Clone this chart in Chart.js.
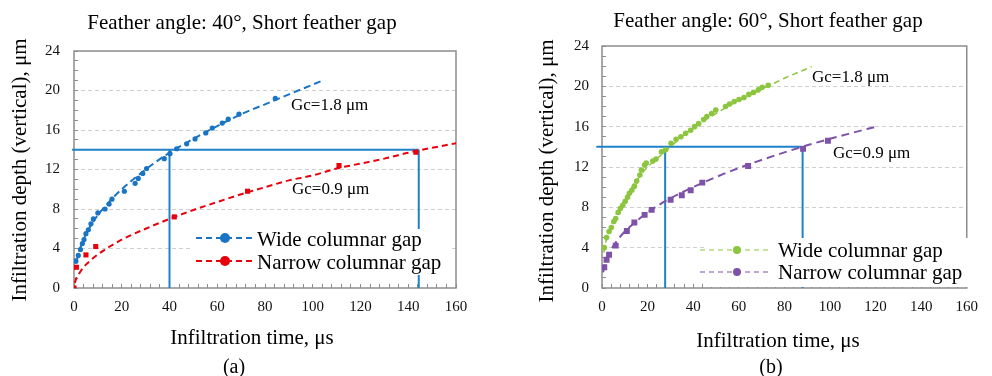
<!DOCTYPE html>
<html>
<head>
<meta charset="utf-8">
<script src="https://cdn.jsdelivr.net/npm/chart.js@4.4.1/dist/chart.umd.min.js"></script>
<style>
  body { margin: 0; background: #fff; }
  #wrap { position: relative; width: 992px; height: 376px; }
  canvas { position: absolute; top: 0; }
</style>
</head>
<body>
<div id="wrap">
  <canvas id="chartA" width="496" height="376" style="left:0"></canvas>
  <canvas id="chartB" width="496" height="376" style="left:496px"></canvas>
</div>
<script>
// ---- (a) feather angle 40° ----
const wideTimeA = [0.8, 1.8, 2.7, 3.5, 4.2, 5.0, 6.0, 7.1, 8.1, 10.0, 13.0, 14.7, 15.9, 21.1, 25.6, 26.9, 28.8, 30.4, 37.8, 40.2, 43.0, 47.2, 50.7, 55.2, 57.9, 62.1, 64.6, 69.1, 84.3];
const wideDepthA = [2.7, 3.3, 3.9, 4.5, 4.9, 5.5, 5.9, 6.5, 7.0, 7.6, 8.0, 8.5, 9.0, 9.8, 10.6, 11.1, 11.6, 12.1, 13.1, 13.6, 14.1, 14.6, 15.1, 15.7, 16.2, 16.7, 17.1, 17.6, 19.2];
const narrowTimeA = [0, 1.0, 5.0, 9.1, 42.0, 72.7, 111.0, 143.2];
const narrowDepthA = [0, 2.1, 3.35, 4.2, 7.2, 9.8, 12.4, 13.75];
const wideFitTimeA = [1, 2, 4, 6, 8, 10, 15, 20, 30, 40, 50, 60, 70, 80, 90, 104];
const wideFitDepthA = [2.6, 3.6, 4.9, 5.9, 6.7, 7.4, 8.8, 10.0, 12.0, 13.7, 15.1, 16.4, 17.6, 18.6, 19.6, 21.0];
const narrowFitTimeA = [0.3, 1, 2, 4, 7, 10, 15, 20, 30, 40, 50, 60, 70, 80, 90, 100, 110, 120, 130, 140, 150, 160];
const narrowFitDepthA = [0.5, 1.0, 1.4, 2.1, 2.8, 3.4, 4.2, 4.9, 6.0, 7.0, 7.9, 8.7, 9.5, 10.2, 10.9, 11.4, 12.1, 12.6, 13.1, 13.7, 14.2, 14.65];
const refStartA = -0.8;
const refTimesA = [40, 144.4];

// ---- (b) feather angle 60° ----
const wideTimeB = [1.0, 2.0, 3.1, 4.1, 5.2, 6.0, 7.1, 8.1, 9.1, 10.2, 11.2, 12.0, 13.1, 14.2, 15.2, 16.6, 17.3, 18.7, 19.4, 22.3, 23.7, 26.1, 27.9, 30.3, 32.5, 34.6, 36.7, 38.9, 40.6, 42.4, 44.6, 46.0, 48.1, 49.9, 54.2, 55.9, 58.0, 60.1, 62.3, 64.4, 66.5, 68.6, 70.3, 72.9];
const wideDepthB = [4.0, 5.0, 5.6, 6.0, 6.6, 6.9, 7.5, 7.9, 8.2, 8.6, 9.0, 9.4, 9.7, 10.1, 10.6, 11.2, 11.7, 12.2, 12.4, 12.6, 12.8, 13.5, 13.7, 14.35, 14.75, 15.0, 15.35, 15.65, 16.0, 16.3, 16.7, 17.0, 17.3, 17.65, 18.0, 18.25, 18.5, 18.7, 18.9, 19.2, 19.4, 19.65, 19.9, 20.1];
const narrowTimeB = [1.0, 2.0, 3.1, 6.0, 10.9, 14.2, 18.7, 21.8, 30.1, 35.0, 38.9, 44.0, 64.1, 88.2, 99.1];
const narrowDepthB = [2.05, 2.8, 3.3, 4.2, 5.65, 6.5, 7.25, 7.75, 8.75, 9.2, 9.7, 10.45, 12.1, 13.8, 14.6];
const wideFitTimeB = [0.8, 2, 4, 6, 8, 10, 15, 20, 25, 30, 40, 50, 60, 70, 80, 92];
const wideFitDepthB = [3.5, 4.9, 6.2, 7.2, 8.0, 8.8, 10.6, 12.0, 13.0, 14.0, 15.9, 17.3, 18.6, 19.7, 20.8, 21.95];
const narrowFitTimeB = [0.5, 1, 2, 4, 7, 10, 15, 20, 30, 40, 50, 60, 70, 80, 90, 100, 110, 119.4];
const narrowFitDepthB = [1.55, 2.1, 2.8, 3.8, 4.8, 5.6, 6.6, 7.5, 8.9, 10.0, 11.0, 11.9, 12.7, 13.45, 14.15, 14.8, 15.4, 15.95];
const refStartB = -2.5;
const refTimesB = [27.7, 88];

const refDepth = 14;
const xTicks = [0, 20, 40, 60, 80, 100, 120, 140, 160];
const yTicks = [0, 4, 8, 12, 16, 20, 24];

const SERIF = '"Liberation Serif", "Times New Roman", serif';
const REF_BLUE = '#1f82c8';

function pts(xs, ys) {
  return xs.map((x, i) => ({ x: x, y: ys[i] }));
}

// 참조선(가로 1개 + 세로 2개)
function refDatasets(start, times) {
  const style = { type: 'line', borderColor: REF_BLUE, borderWidth: 2, pointRadius: 0, clip: 10, order: 5 };
  return [
    Object.assign({ data: pts([start, times[1]], [refDepth, refDepth]) }, style),
    Object.assign({ data: pts([times[0], times[0]], [refDepth, 0]) }, style),
    Object.assign({ data: pts([times[1], times[1]], [refDepth, 0]) }, style)
  ];
}

// 제목, 축 제목, 주석, 범례를 그리는 플러그인
function makeDecor(cfg) {
  return {
    id: 'decor',
    beforeDatasetsDraw(chart) {
      const { ctx, chartArea: a } = chart;
      ctx.save();
      ctx.strokeStyle = '#8c8c8c';
      ctx.lineWidth = 1.5;
      ctx.strokeRect(a.left, a.top, a.right - a.left, a.bottom - a.top);
      ctx.restore();
    },
    afterDatasetsDraw(chart) {
      const ctx = chart.ctx;
      ctx.save();
      ctx.fillStyle = '#000';
      ctx.textBaseline = 'alphabetic';
      ctx.textAlign = 'center';
      ctx.font = '21px ' + SERIF;
      ctx.fillText(cfg.title, cfg.titleX, cfg.titleY);
      ctx.fillText('Infiltration time, μs', cfg.xTitleX, cfg.xTitleY);
      ctx.font = '20px ' + SERIF;
      ctx.fillText(cfg.panel, cfg.panelX, 373);

      ctx.save();
      ctx.font = '21px ' + SERIF;
      ctx.translate(cfg.yTitleX, cfg.yTitleY);
      ctx.rotate(-Math.PI / 2);
      ctx.fillText('Infiltration depth (vertical), μm', 0, 0);
      ctx.restore();

      ctx.textAlign = 'left';
      ctx.font = '17px ' + SERIF;
      cfg.notes.forEach(n => ctx.fillText(n.text, n.x, n.y));

      // 범례
      const L = cfg.legend;
      ctx.fillStyle = '#fff';
      ctx.fillRect(L.box[0], L.box[1], L.box[2], L.box[3]);
      ctx.font = '21px ' + SERIF;
      L.rows.forEach(r => {
        ctx.strokeStyle = r.color;
        ctx.lineWidth = r.width;
        ctx.setLineDash(r.dash);
        ctx.beginPath();
        ctx.moveTo(L.x0, r.y);
        ctx.lineTo(L.x1, r.y);
        ctx.stroke();
        ctx.setLineDash([]);
        ctx.fillStyle = r.color;
        ctx.beginPath();
        ctx.arc(L.mx, r.y, L.r, 0, Math.PI * 2);
        ctx.fill();
        ctx.fillStyle = '#000';
        ctx.fillText(r.text, L.tx, r.y + L.dy);
      });
      ctx.restore();
    }
  };
}

function makeScales(yWidth, yPad, xPad) {
  const tickFont = { family: SERIF, size: 15 };
  return {
    x: {
      type: 'linear', min: 0, max: 160,
      afterFit: s => { s.height = 88; },
      border: { display: false },
      grid: { color: 'rgba(0,0,0,0)', tickColor: '#8c8c8c', tickLength: -4, drawTicks: true },
      ticks: {
        stepSize: 4, maxTicksLimit: 100, autoSkip: false, maxRotation: 0,
        padding: xPad, font: tickFont, color: '#111',
        callback: v => (xTicks.includes(v) ? v : '')
      }
    },
    y: {
      type: 'linear', min: 0, max: 24,
      afterFit: s => { s.width = yWidth; },
      border: { display: false, dash: [4, 3] },
      grid: {
        color: c => (c.tick && yTicks.includes(c.tick.value) && c.tick.value > 0 && c.tick.value < 24) ? '#cfcfcf' : 'rgba(0,0,0,0)',
        tickColor: '#8c8c8c', tickLength: -4, drawTicks: true
      },
      ticks: {
        stepSize: 1, maxTicksLimit: 100, autoSkip: false,
        padding: yPad, font: tickFont, color: '#111',
        callback: v => (yTicks.includes(v) ? v : '')
      }
    }
  };
}

function buildChart(id, d) {
  return new Chart(document.getElementById(id), {
    data: {
      datasets: [
        { type: 'scatter', data: pts(d.wideT, d.wideD), backgroundColor: d.wideColor, borderWidth: 0,
          pointStyle: 'circle', pointRadius: d.wideR, order: 1 },
        { type: 'scatter', data: pts(d.narrowT, d.narrowD), backgroundColor: d.narrowColor, borderWidth: 0,
          pointStyle: 'rect', pointRadius: d.narrowR, order: 2 },
        { type: 'line', data: pts(d.wideFitT, d.wideFitD), borderColor: d.wideColor, borderWidth: d.wideLineW,
          borderDash: d.wideDash, pointRadius: 0, cubicInterpolationMode: 'monotone', order: 3 },
        { type: 'line', data: pts(d.narrowFitT, d.narrowFitD), borderColor: d.narrowColor, borderWidth: 2,
          borderDash: d.narrowDash, pointRadius: 0, cubicInterpolationMode: 'monotone', order: 4 },
        ...refDatasets(d.refStart, d.refTimes)
      ]
    },
    options: {
      responsive: false,
      animation: false,
      layout: { padding: d.padding },
      plugins: { legend: { display: false }, tooltip: { enabled: false } },
      scales: makeScales(d.yWidth, d.yPad, 14)
    },
    plugins: [makeDecor(d.decor)]
  });
}

buildChart('chartA', {
  wideT: wideTimeA, wideD: wideDepthA, narrowT: narrowTimeA, narrowD: narrowDepthA,
  wideFitT: wideFitTimeA, wideFitD: wideFitDepthA, narrowFitT: narrowFitTimeA, narrowFitD: narrowFitDepthA,
  refStart: refStartA, refTimes: refTimesA,
  wideColor: '#1a74c4', narrowColor: '#e8000b', wideR: 2.6, narrowR: 3.6,
  wideLineW: 2, wideDash: [7, 4], narrowDash: [6, 4],
  padding: { top: 51, right: 40, bottom: 0, left: 0 }, yWidth: 74, yPad: 18,
  decor: {
    title: 'Feather angle: 40°, Short feather gap', titleX: 242, titleY: 29,
    xTitleX: 252, xTitleY: 344, panel: '(a)', panelX: 234,
    yTitleX: 26, yTitleY: 170,
    notes: [
      { text: 'Gc=1.8 μm', x: 291, y: 110 },
      { text: 'Gc=0.9 μm', x: 292, y: 194 }
    ],
    legend: {
      box: [193, 229, 257, 46], x0: 196, x1: 253, mx: 225, r: 5, tx: 257, dy: 8,
      rows: [
        { text: 'Wide columnar gap', y: 238, color: '#1a74c4', width: 2, dash: [6, 4] },
        { text: 'Narrow columnar gap', y: 261, color: '#e8000b', width: 2, dash: [6, 4] }
      ]
    }
  }
});

buildChart('chartB', {
  wideT: wideTimeB, wideD: wideDepthB, narrowT: narrowTimeB, narrowD: narrowDepthB,
  wideFitT: wideFitTimeB, wideFitD: wideFitDepthB, narrowFitT: narrowFitTimeB, narrowFitD: narrowFitDepthB,
  refStart: refStartB, refTimes: refTimesB,
  wideColor: '#8cc63f', narrowColor: '#7d52a8', wideR: 2.8, narrowR: 4.2,
  wideLineW: 1.5, wideDash: [6, 4], narrowDash: [8, 5],
  padding: { top: 46, right: 14, bottom: 0, left: 0 }, yWidth: 106, yPad: 17,
  decor: {
    title: 'Feather angle: 60°, Short feather gap', titleX: 272, titleY: 27,
    xTitleX: 282, xTitleY: 347, panel: '(b)', panelX: 275,
    yTitleX: 57, yTitleY: 171,
    notes: [
      { text: 'Gc=1.8 μm', x: 316, y: 82 },
      { text: 'Gc=0.9 μm', x: 337, y: 158 }
    ],
    legend: {
      box: [208, 238, 266, 49], x0: 204, x1: 274, mx: 241, r: 4, tx: 282, dy: 7,
      rows: [
        { text: 'Wide columnar gap', y: 250, color: '#8cc63f', width: 1.2, dash: [5, 4] },
        { text: 'Narrow columnar gap', y: 272, color: '#7d52a8', width: 1.2, dash: [5, 4] }
      ]
    }
  }
});
</script>
</body>
</html>
